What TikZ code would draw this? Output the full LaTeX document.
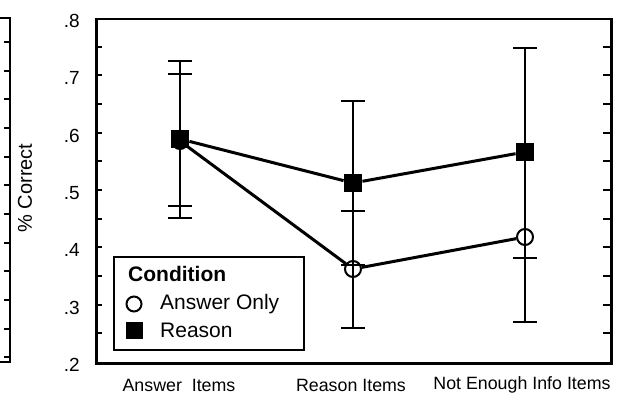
\documentclass[tikz,border=0pt]{standalone}
\usepackage{fontspec}
\setmainfont{Liberation Sans}
\begin{document}
\begin{tikzpicture}[x=1pt,y=-1pt,
  frame/.style={line width=2.5pt, line cap=rect},
  tickmark/.style={line width=2pt},
  dataline/.style={line width=3pt},
  errbar/.style={line width=2.2pt},
  sqmark/.style={rectangle, fill=black, inner sep=0pt, minimum size=18.5pt},
  cimark/.style={circle, draw=black, line width=2pt, inner sep=0pt, minimum size=16pt},
  ticklabel/.style={anchor=east, inner sep=0pt, font=\fontsize{19}{22}\selectfont},
  xlab/.style={inner sep=0pt, font=\fontsize{17.8}{21}\selectfont},
  legtext/.style={anchor=west, inner sep=0pt, font=\fontsize{21}{25}\selectfont},
  pt/.style={inner sep=0pt, minimum size=0pt}
]
\useasboundingbox (0,0) rectangle (617,398);

% partial panel on the left
\draw[frame] (-5,18) -- (10,18) -- (10,362) -- (-5,362);
\foreach \k in {0,...,11} \draw[tickmark] (10,42+28.667*\k) -- (4,42+28.667*\k);

% main frame
\node[draw, frame, inner sep=0pt, minimum width=515pt, minimum height=344pt, anchor=north west] (plot) at (95,18) {};
\foreach \k in {1,...,11} {
  \draw[tickmark] (95,18+28.667*\k) -- (102,18+28.667*\k);
  \draw[tickmark] (610,18+28.667*\k) -- (603,18+28.667*\k);
}

% y tick labels
\foreach \k/\t in {0/.8,1/.7,2/.6,3/.5,4/.4,5/.3,6/.2}
  \node[ticklabel] (yl\k) at (80,21+57.333*\k) {\t};

% y axis title
\node[rotate=90, inner sep=0pt, font=\fontsize{20}{24}\selectfont] (ytitle) at (25,188) {\% Correct};

% x labels
\node[xlab] (xa) at (179,385) {Answer\ \ Items};
\node[xlab] (xr) at (351,385) {Reason Items};
\node[xlab] (xn) at (522,385) {Not Enough Info Items};

% error bars (coordinates of caps)
\coordinate (aT1) at (180,61);  \coordinate (aB1) at (180,218);
\coordinate (aT2) at (180,74);  \coordinate (aB2) at (180,206);
\coordinate (rT1) at (353,101); \coordinate (rB1) at (353,265);
\coordinate (rT2) at (353,211); \coordinate (rB2) at (353,328);
\coordinate (nT1) at (525,48);  \coordinate (nB1) at (525,258);
\coordinate (nT2) at (525,152); \coordinate (nB2) at (525,322);

\draw[errbar] (aT1) -- (aB1);
\draw[errbar] (rT1) -- (rB2);
\draw[errbar] (nT1) -- (nB2);
\foreach \c in {aT1,aB1,aT2,aB2,rT1,rB1,rT2,rB2,nT1,nB1,nB2}
  \draw[errbar] ([xshift=-12pt]\c) -- ([xshift=12pt]\c);

% data markers
\node[cimark] (ca) at (180,141) {};
\node[cimark] (cr) at (353,269) {};
\node[cimark] (cn) at (525,237) {};
\node[sqmark] (sa) at (180,139) {};
\node[sqmark] (sr) at (353,183) {};
\node[sqmark] (sn) at (525,152) {};

% connecting lines
\draw[dataline] (ca) -- (cr) -- (cn);
\draw[dataline] (sa) -- (sr) -- (sn);

% legend
\node[draw, line width=2pt, inner sep=0pt, minimum width=190pt, minimum height=93pt, anchor=north west, fill=white] (legend) at (113,256) {};
\node[legtext, font=\fontsize{21}{25}\selectfont\bfseries] (legtitle) at (128,274) {Condition};
\node[cimark, minimum size=15pt] (legc) at (134,304) {};
\node[legtext] (legct) at (160,304) {Answer Only};
\node[sqmark, minimum size=17pt] (legs) at (134,330) {};
\node[legtext] (legst) at (160,330) {Reason};
\end{tikzpicture}
\end{document}
